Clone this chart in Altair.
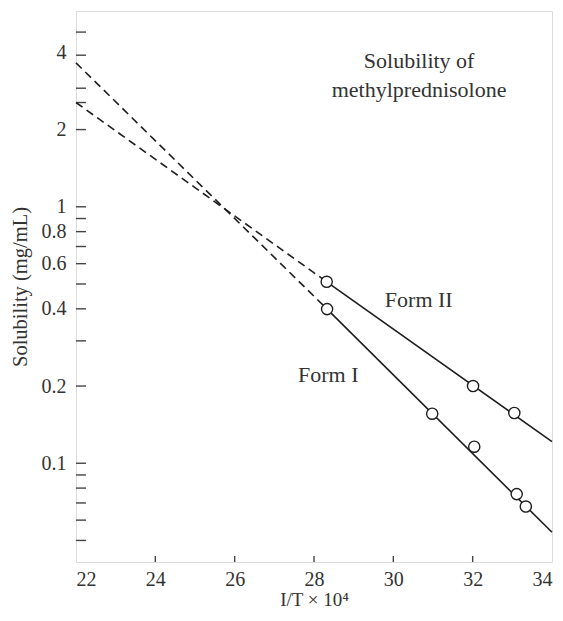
import altair as alt
import pandas as pd

# ---- data ----
form1_x = [28.33, 30.98, 32.04, 33.11, 33.34]
form1_y = [0.399, 0.156, 0.116, 0.0758, 0.0678]
form2_x = [28.32, 32.01, 33.05]
form2_y = [0.510, 0.200, 0.157]

# fitted lines (solid) and extrapolations (dashed)
form1_fit_x = [28.33, 34.0]
form1_fit_y = [0.399, 0.0538]
form2_fit_x = [28.32, 34.0]
form2_fit_y = [0.510, 0.1214]
form1_ext_x = [22.0, 28.33]
form1_ext_y = [3.64, 0.399]
form2_ext_x = [22.0, 28.32]
form2_ext_y = [2.55, 0.510]

# annotations
ann_text = ["Solubility of", "methylprednisolone", "Form II", "Form I"]
ann_x = [30.65, 30.65, 30.64, 28.36]
ann_y = [3.47, 2.69, 0.4076, 0.208]

# axis ticks
x_labels = [22, 24, 26, 28, 30, 32, 34]
x_inner_ticks = [24, 26, 28, 30, 32]
y_labels = [0.1, 0.2, 0.4, 0.6, 0.8, 1, 2, 4]
y_ticks = [0.05, 0.06, 0.07, 0.08, 0.09, 0.1, 0.2, 0.3, 0.4, 0.5, 0.6,
           0.7, 0.8, 0.9, 1, 2, 2.55, 2.9, 3.9, 4.8]

FONT = "Liberation Serif"
INK = "#1e1e1e"
TXT = "#333333"

pts = pd.DataFrame({
    "x": form1_x + form2_x,
    "y": form1_y + form2_y,
    "form": ["Form I"] * len(form1_x) + ["Form II"] * len(form2_x),
})
fit = pd.DataFrame({
    "x": form1_fit_x + form2_fit_x,
    "y": form1_fit_y + form2_fit_y,
    "form": ["Form I"] * 2 + ["Form II"] * 2,
})
ext = pd.DataFrame({
    "x": form1_ext_x + form2_ext_x,
    "y": form1_ext_y + form2_ext_y,
    "form": ["Form I"] * 2 + ["Form II"] * 2,
})
ann = pd.DataFrame({"x": ann_x, "y": ann_y, "t": ann_text})
ytk = pd.DataFrame({"y": y_ticks})
xtk = pd.DataFrame({"x": x_inner_ticks})

xenc = alt.X(
    "x:Q",
    scale=alt.Scale(domain=[22, 34], nice=False, zero=False),
    axis=alt.Axis(
        values=x_labels, format="d", ticks=False, tickSize=0, grid=False,
        domain=False, labelFont=FONT, labelFontSize=20, labelColor=TXT,
        labelPadding=7, title="I/T × 10⁴", titleFont=FONT,
        titleFontSize=19, titleFontWeight="normal", titleColor=TXT,
        titlePadding=1,
    ),
)
yenc = alt.Y(
    "y:Q",
    scale=alt.Scale(type="log", domain=[0.0412, 5.8], nice=False),
    axis=alt.Axis(
        values=y_labels, format="~g", ticks=False, tickSize=0, grid=False,
        domain=False, labelFont=FONT, labelFontSize=20, labelColor=TXT,
        labelPadding=10, title="Solubility (mg/mL)", titleFont=FONT,
        titleFontSize=20.5, titleFontWeight="normal", titleColor=TXT,
        titlePadding=11,
    ),
)

ext_layer = alt.Chart(ext).mark_line(
    color=INK, strokeWidth=1.6, strokeDash=[8, 5]
).encode(x=xenc, y=yenc, detail="form:N")

fit_layer = alt.Chart(fit).mark_line(
    color=INK, strokeWidth=1.6
).encode(x=xenc, y=yenc, detail="form:N")

pt_layer = alt.Chart(pts).mark_point(
    shape="circle", size=125, filled=False, fill="white", fillOpacity=1,
    stroke=INK, strokeWidth=1.4, opacity=1
).encode(x=xenc, y=yenc)

txt_layer = alt.Chart(ann).mark_text(
    font=FONT, fontSize=22, color=TXT, align="center", baseline="alphabetic"
).encode(x=xenc, y=yenc, text="t:N")

ytick_layer = alt.Chart(ytk).mark_rule(color="#444", strokeWidth=1.4).encode(
    y=yenc, x=alt.value(0), x2=alt.value(10)
)
xtick_layer = alt.Chart(xtk).mark_rule(color="#444", strokeWidth=1.4).encode(
    x=xenc, y=alt.value(551), y2=alt.value(545)
)

chart = alt.layer(
    ytick_layer, xtick_layer, ext_layer, fit_layer, pt_layer, txt_layer
).properties(
    width=476, height=551,
    autosize=alt.AutoSizeParams(type="none"),
    padding={"left": 68, "top": 3, "right": 3, "bottom": 50},
).configure_view(
    stroke="#333", strokeWidth=1.6
).configure(background="white")

chart.save("out.html", embed_options={"renderer": "svg", "actions": False})
